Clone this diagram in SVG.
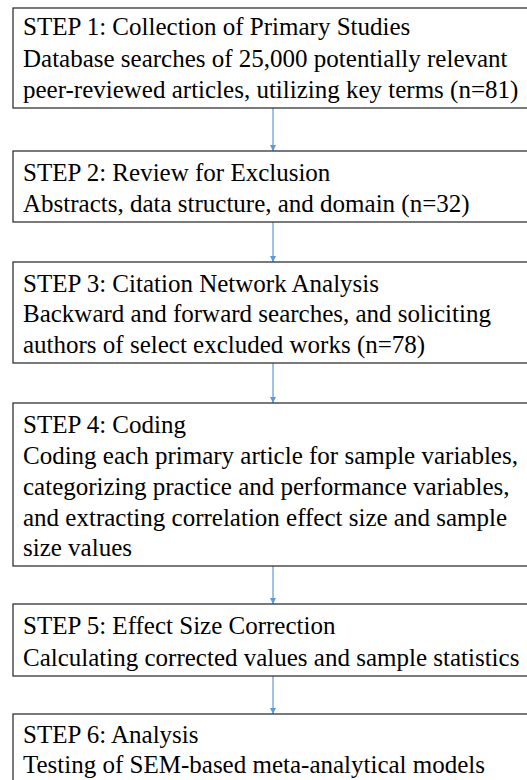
<svg xmlns="http://www.w3.org/2000/svg" width="527" height="780" viewBox="0 0 527 780">
  <style>
    .box { fill: #ffffff; stroke: #333333; stroke-width: 1.3; }
    .link { stroke: #5b9bd5; stroke-width: 1.2; fill: none; }
  </style>
  <defs>
    <marker id="arrow" viewBox="0 0 10 10" refX="10" refY="5" markerWidth="6" markerHeight="6" markerUnits="userSpaceOnUse" orient="auto">
      <path d="M0,0 L10,5 L0,10 z" fill="#5b9bd5"/>
    </marker>
  </defs>
  <rect width="527" height="780" fill="#ffffff"/>

  <!-- flow arrows between the steps -->
  <g id="connectors">
    <line class="link" x1="273" y1="108" x2="273" y2="151" marker-end="url(#arrow)"/>
    <line class="link" x1="273" y1="222" x2="273" y2="262" marker-end="url(#arrow)"/>
    <line class="link" x1="273" y1="363" x2="273" y2="403" marker-end="url(#arrow)"/>
    <line class="link" x1="273" y1="566" x2="273" y2="604" marker-end="url(#arrow)"/>
    <line class="link" x1="273" y1="676" x2="273" y2="714" marker-end="url(#arrow)"/>
  </g>

  <!-- step boxes: frames run past the right and bottom edges -->
  <g id="step1">
    <rect class="box" x="13" y="8" width="530" height="100"/>
    <text x="23" y="35" font-size="25" style="font-family: 'Liberation Serif', serif">STEP 1: Collection of Primary Studies</text>
    <text x="23" y="67" font-size="25" style="font-family: 'Liberation Serif', serif">Database searches of 25,000 potentially relevant</text>
    <text x="23" y="98" font-size="25" style="font-family: 'Liberation Serif', serif">peer-reviewed articles, utilizing key terms (n=81)</text>
  </g>
  <g id="step2">
    <rect class="box" x="13" y="151" width="530" height="71"/>
    <text x="23" y="181" font-size="25" style="font-family: 'Liberation Serif', serif">STEP 2: Review for Exclusion</text>
    <text x="23" y="212" font-size="25" style="font-family: 'Liberation Serif', serif">Abstracts, data structure, and domain (n=32)</text>
  </g>
  <g id="step3">
    <rect class="box" x="13" y="262" width="530" height="101"/>
    <text x="23" y="292" font-size="25" style="font-family: 'Liberation Serif', serif">STEP 3: Citation Network Analysis</text>
    <text x="23" y="322" font-size="25" style="font-family: 'Liberation Serif', serif">Backward and forward searches, and soliciting</text>
    <text x="23" y="353" font-size="25" style="font-family: 'Liberation Serif', serif">authors of select excluded works (n=78)</text>
  </g>
  <g id="step4">
    <rect class="box" x="13" y="403" width="530" height="163"/>
    <text x="23" y="433" font-size="25" style="font-family: 'Liberation Serif', serif">STEP 4: Coding</text>
    <text x="23" y="464" font-size="25" style="font-family: 'Liberation Serif', serif">Coding each primary article for sample variables,</text>
    <text x="23" y="495" font-size="25" style="font-family: 'Liberation Serif', serif">categorizing practice and performance variables,</text>
    <text x="23" y="526" font-size="25" style="font-family: 'Liberation Serif', serif">and extracting correlation effect size and sample</text>
    <text x="23" y="556" font-size="25" style="font-family: 'Liberation Serif', serif">size values</text>
  </g>
  <g id="step5">
    <rect class="box" x="13" y="604" width="530" height="72"/>
    <text x="23" y="634" font-size="25" style="font-family: 'Liberation Serif', serif">STEP 5: Effect Size Correction</text>
    <text x="23" y="666" font-size="25" style="font-family: 'Liberation Serif', serif">Calculating corrected values and sample statistics</text>
  </g>
  <g id="step6">
    <rect class="box" x="13" y="714" width="530" height="100"/>
    <text x="23" y="743" font-size="25" style="font-family: 'Liberation Serif', serif">STEP 6: Analysis</text>
    <text x="23" y="773" font-size="25" style="font-family: 'Liberation Serif', serif">Testing of SEM-based meta-analytical models</text>
  </g>
</svg>
